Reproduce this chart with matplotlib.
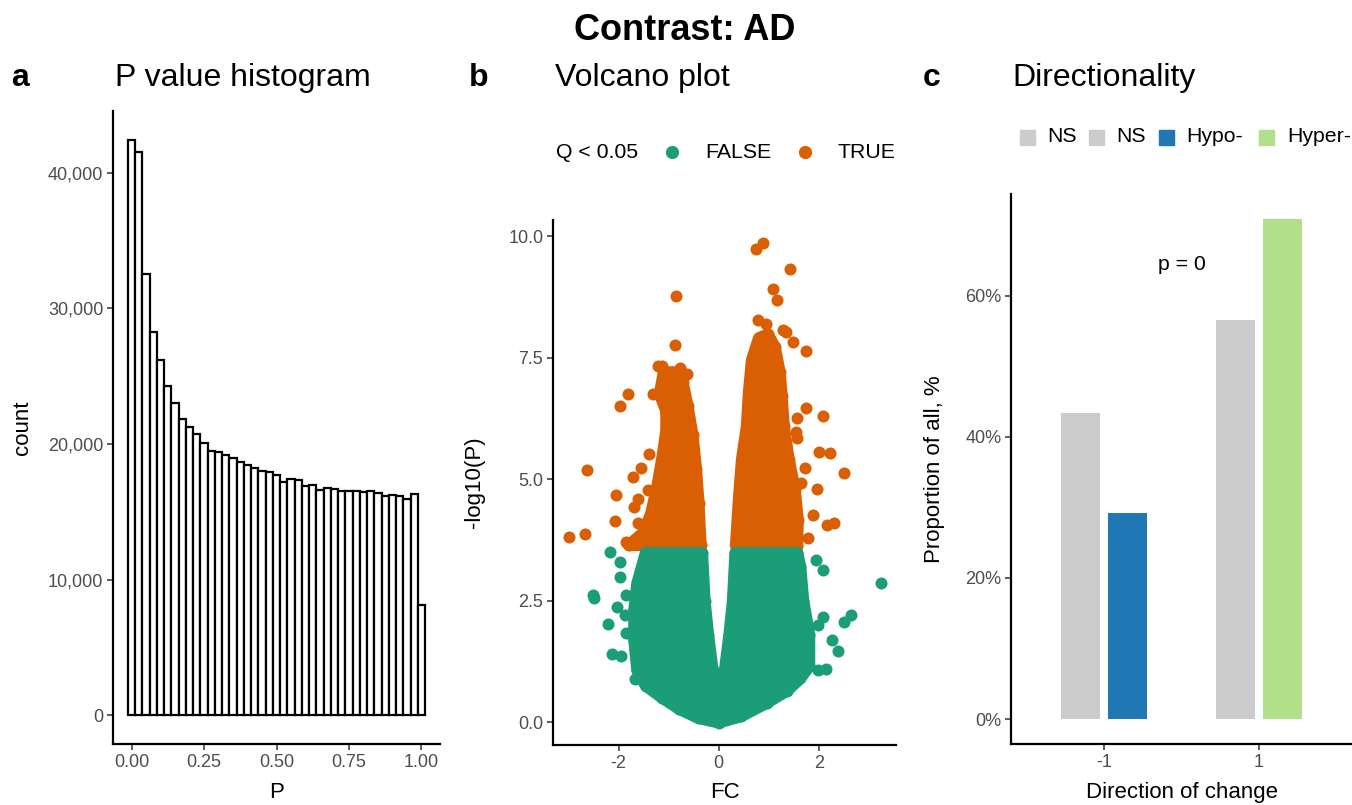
import numpy as np
import matplotlib.pyplot as plt
import matplotlib.ticker as mticker
from matplotlib.patches import Rectangle, Polygon
from matplotlib.lines import Line2D

plt.rcParams['font.family'] = ['Liberation Sans', 'DejaVu Sans']
plt.rcParams['axes.unicode_minus'] = False

# ---- data -------------------------------------------------------------

# P value histogram: 41 bins of width 0.025 centred on 0, 0.025, ..., 1.0
hist_binwidth = 0.025
hist_counts = [42426, 41493, 32551, 28287, 26199, 24287, 22990, 21838, 21272,
               20735, 20100, 19461, 19390, 19191, 18946, 18700, 18456, 18211,
               18039, 17917, 17721, 17230, 17426, 17377, 16936, 17010, 16642,
               16765, 16691, 16569, 16569, 16569, 16495, 16569, 16397, 16200,
               16250, 16150, 15956, 16323, 8100]

# Volcano plot: envelope of the dense point clouds + individual outliers
green_cloud_x = [-1.46, -1.63, -1.69, -1.69, -1.63, -1.46, -1.13, -0.79, -0.40,
                 0.00, 0.45, 0.97, 1.37, 1.63, 1.81, 1.81, 1.69, 1.63, 1.57,
                 0.33, 0.28, 0.21, 0.12, 0.00, -0.12, -0.21, -0.28, -0.33]
green_cloud_y = [3.48, 2.85, 2.30, 1.69, 1.07, 0.75, 0.50, 0.27, 0.08,
                 -0.01, 0.12, 0.40, 0.65, 0.90, 1.15, 1.80, 2.50, 3.20, 3.48,
                 3.48, 2.50, 1.80, 1.07, 0.30, 1.07, 1.80, 2.50, 3.48]

orange_left_x = [-1.80, -1.50, -1.35, -1.22, -1.12, -1.05, -1.05, -1.18, -1.10,
                 -0.92, -0.72, -0.62, -0.52, -0.45, -0.40, -0.36]
orange_left_y = [3.64, 3.90, 4.30, 4.90, 5.50, 6.00, 6.40, 6.75, 7.20,
                 7.20, 7.00, 6.50, 5.90, 5.20, 4.50, 3.64]
orange_right_x = [0.34, 0.40, 0.46, 0.56, 0.60, 0.66, 0.80, 0.98, 1.12, 1.22,
                  1.26, 1.30, 1.40, 1.52, 1.58, 1.57]
orange_right_y = [3.63, 4.60, 5.40, 6.10, 6.80, 7.45, 7.90, 7.98, 7.72, 7.20,
                  6.70, 6.10, 5.40, 4.80, 4.16, 3.63]

green_pts_x = [3.25, 2.65, 2.51, 2.27, 2.38, 2.15, 1.98, 2.08, 1.95, 2.08, 1.98,
               -2.51, -2.50, -2.17, -1.98, -1.98, -2.04, -2.21, -2.14, -1.95,
               -1.85, -1.88, -1.68, -1.85]
green_pts_y = [2.87, 2.20, 2.07, 1.68, 1.47, 1.10, 1.07, 3.13, 3.33, 2.17, 2.00,
               2.61, 2.55, 3.49, 3.29, 2.98, 2.36, 2.02, 1.40, 1.37,
               2.61, 2.20, 0.88, 1.83]

orange_pts_x = [0.89, 0.75, 1.43, -0.86, 1.09, 1.17, 0.79, 0.95, 1.29, 1.35,
                1.49, 1.74, -0.88, -1.21, -1.14, -0.78, -0.63, -1.81, -1.97,
                -1.31, 1.74, 2.09, 1.57, 1.55, 1.57, 2.01, 2.22, 2.51, -1.40,
                -1.55, -1.71, -2.05, -2.08, -1.41, -1.61, -1.69, -1.61, 1.72,
                1.65, 1.96, 1.89, 2.16, 2.30, 1.78, -1.85, -3.00, -2.68, -2.63]
orange_pts_y = [9.85, 9.73, 9.33, 8.77, 8.92, 8.68, 8.27, 8.20, 8.07, 8.03,
                7.83, 7.63, 7.76, 7.33, 7.33, 7.28, 7.16, 6.76, 6.50,
                6.76, 6.46, 6.30, 6.26, 5.97, 5.85, 5.56, 5.53, 5.12, 5.51,
                5.22, 5.05, 4.68, 4.14, 4.77, 4.60, 4.42, 4.09, 5.22,
                4.91, 4.79, 4.26, 4.05, 4.09, 3.79, 3.70, 3.81, 3.88, 5.19]

# Directionality
directions = [-1, 1]
ns_prop = [43.4, 56.6]
sig_prop = [29.2, 70.8]
sig_labels = ['Hypo-', 'Hyper-']
p_label = 'p = 0'

# ---- style ------------------------------------------------------------

GREEN = '#1B9E77'
ORANGE = '#D95F02'
GREY = '#CCCCCC'
SIG_COLORS = ['#1F78B4', '#B2DF8A']

TITLE_SIZE = 23
AXLABEL_SIZE = 16
TICK_SIZE = 13
LEGEND_SIZE = 15.3

W, H = 1352, 805
fig = plt.figure(figsize=(W / 100, H / 100), dpi=100)


def fx(px):
    return px / W


def fy(py):
    return 1 - py / H


def add_axes_px(left, top, right, bottom):
    return fig.add_axes([fx(left), fy(bottom), (right - left) / W, (bottom - top) / H])


def classic(ax):
    """theme_classic look"""
    for side in ['top', 'right']:
        ax.spines[side].set_visible(False)
    for side in ['left', 'bottom']:
        ax.spines[side].set_linewidth(1.6)
        ax.spines[side].set_color('black')
    ax.tick_params(length=4, width=1.1, color='#333333', labelcolor='#4D4D4D',
                   labelsize=TICK_SIZE, pad=3)


def axis_labels(ax, xlabel, ylabel, ylabel_x, top, bottom):
    """x label sits just above the figure's bottom edge, y label right edge at ylabel_x"""
    ax.set_xlabel(xlabel, fontsize=AXLABEL_SIZE, va='bottom')
    ax.set_ylabel(ylabel, fontsize=AXLABEL_SIZE)
    ax.xaxis.set_label_coords(0.5, (bottom - 803) / (bottom - top))
    ax.yaxis.set_label_coords(ylabel_x, 0.5)


def panel_title(tag, tag_x, title, title_x):
    fig.text(fx(tag_x), fy(78), tag, fontsize=TITLE_SIZE, fontweight='bold', va='center')
    fig.text(fx(title_x), fy(78), title, fontsize=TITLE_SIZE, va='center')


fig.text(fx(685), fy(30), 'Contrast: AD', fontsize=26, fontweight='bold',
         ha='center', va='center')

# ---- a: P value histogram --------------------------------------------

ax_a = add_axes_px(113, 111, 440, 744)
centers = np.arange(len(hist_counts)) * hist_binwidth
ax_a.bar(centers, hist_counts, width=hist_binwidth, color='white',
         edgecolor='black', linewidth=1.6)
ax_a.set_xlim(-0.064, 1.064)
ax_a.set_ylim(-2120, 44550)
ax_a.set_xticks([0, 0.25, 0.5, 0.75, 1.0])
ax_a.xaxis.set_major_formatter(mticker.FormatStrFormatter('%.2f'))
ax_a.set_yticks([0, 10000, 20000, 30000, 40000])
ax_a.yaxis.set_major_formatter(mticker.FuncFormatter(lambda v, p: f'{int(v):,}'))
classic(ax_a)
axis_labels(ax_a, 'P', 'count', -0.245, 111, 744)
panel_title('a', 11, 'P value histogram', 115)

# ---- b: volcano plot --------------------------------------------------

ax_b = add_axes_px(553, 220, 896, 745)
cloud_lw = 8.5
for xs, ys, col in [(orange_left_x, orange_left_y, ORANGE),
                    (orange_right_x, orange_right_y, ORANGE),
                    (green_cloud_x, green_cloud_y, GREEN)]:
    ax_b.add_patch(Polygon(np.column_stack([xs, ys]), closed=True, facecolor=col,
                           edgecolor=col, linewidth=cloud_lw, joinstyle='round'))
    ax_b.scatter(xs, ys, s=75, color=col, linewidths=0)
ax_b.scatter(orange_pts_x, orange_pts_y, s=75, color=ORANGE, linewidths=0)
ax_b.scatter(green_pts_x, green_pts_y, s=75, color=GREEN, linewidths=0)
ax_b.set_xlim(-3.31, 3.54)
ax_b.set_ylim(-0.47, 10.33)
ax_b.set_xticks([-2, 0, 2])
ax_b.set_yticks([0, 2.5, 5, 7.5, 10])
ax_b.yaxis.set_major_formatter(mticker.FormatStrFormatter('%.1f'))
classic(ax_b)
axis_labels(ax_b, 'FC', '-log10(P)', -0.198, 220, 745)
panel_title('b', 469, 'Volcano plot', 555)

# legend for b
fig.text(fx(556), fy(152), 'Q < 0.05', fontsize=LEGEND_SIZE, va='center')
for cx, col, lab, lx in [(672, GREEN, 'FALSE', 705), (805, ORANGE, 'TRUE', 838)]:
    fig.add_artist(Line2D([fx(cx)], [fy(152)], marker='o', markersize=8.5,
                          color=col, linestyle='none', transform=fig.transFigure))
    fig.text(fx(lx), fy(152), lab, fontsize=LEGEND_SIZE, va='center')

# ---- c: directionality -----------------------------------------------

ax_c = add_axes_px(1011, 194, 1352, 744)
dir_arr = np.array(directions, dtype=float)
ax_c.bar(dir_arr - 0.3, ns_prop, width=0.5, color=GREY)
ax_c.bar(dir_arr + 0.3, sig_prop, width=0.5, color=SIG_COLORS)
ax_c.text(0, 64.4, p_label, fontsize=LEGEND_SIZE, ha='center', va='center')
ax_c.set_xlim(-2.2, 2.2)
ax_c.set_ylim(-3.54, 74.4)
ax_c.set_xticks(directions)
ax_c.set_yticks([0, 20, 40, 60])
ax_c.yaxis.set_major_formatter(mticker.FuncFormatter(lambda v, p: f'{int(v)}%'))
classic(ax_c)
axis_labels(ax_c, 'Direction of change', 'Proportion of all, %', -0.194, 194, 744)
panel_title('c', 923, 'Directionality', 1012)

# legend for c
legend_items = [('NS', GREY, 1020, 1047), ('NS', GREY, 1089, 1116),
                (sig_labels[0], SIG_COLORS[0], 1159, 1186),
                (sig_labels[1], SIG_COLORS[1], 1259, 1287)]
for lab, col, sx, lx in legend_items:
    fig.add_artist(Rectangle((fx(sx), fy(145)), 15 / W, 15 / H, color=col,
                             transform=fig.transFigure))
    fig.text(fx(lx), fy(137), lab, fontsize=LEGEND_SIZE, va='center')

fig.savefig('out.png', dpi=100)
